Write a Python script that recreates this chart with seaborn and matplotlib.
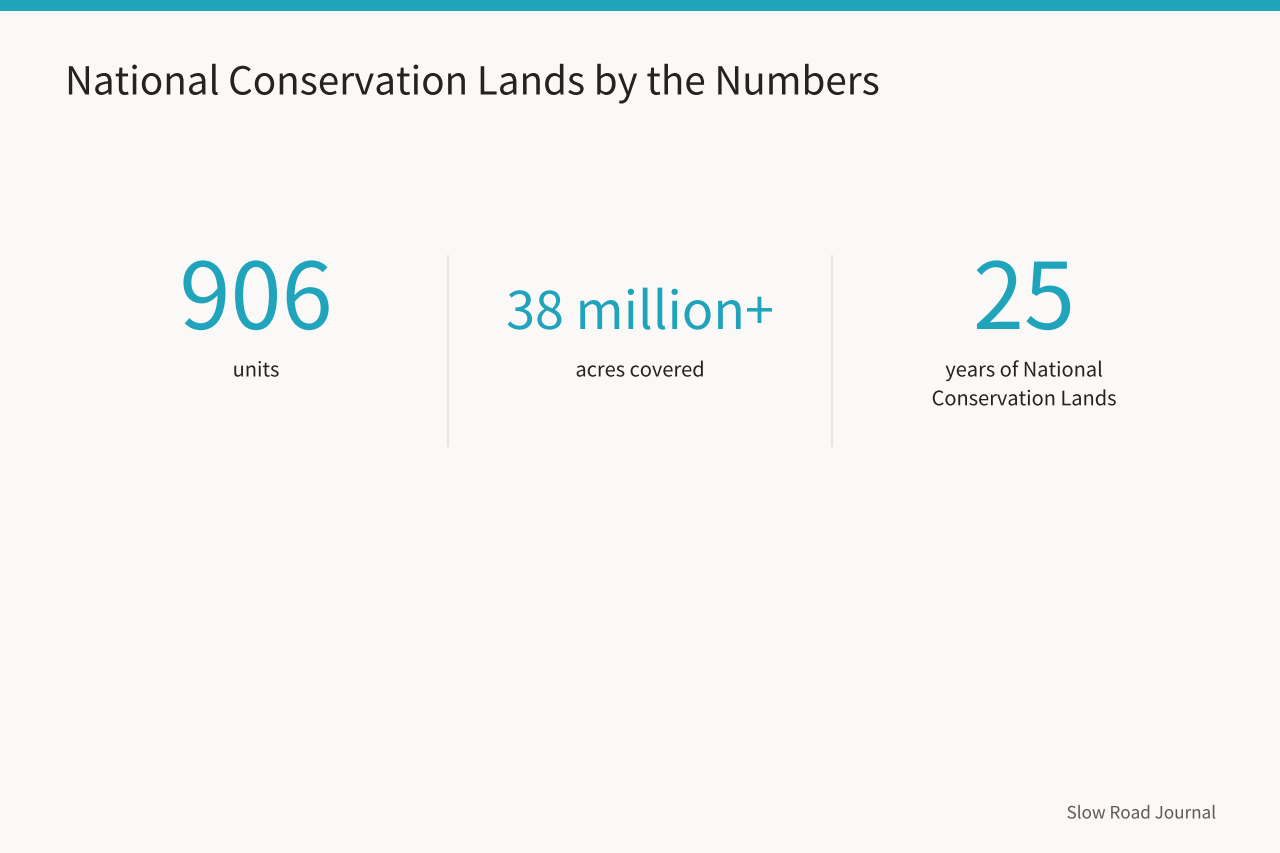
import matplotlib
matplotlib.use("Agg")
import matplotlib.pyplot as plt
import matplotlib.patheffects as pe
import seaborn as sns

title = "National Conservation Lands by the Numbers"
big_numbers = ["906", "38 million+", "25"]
captions = ["units", "acres covered", "years of National\nConservation Lands"]
number_sizes = [66.24, 37.44, 66.24]
footer = "Slow Road Journal"

bg = "#faf9f8"
teal = "#20a4bc"
dark = "#26221e"

sns.set_theme(style="white")
plt.rcParams["font.family"] = ["Noto Sans CJK JP", "DejaVu Sans"]
plt.rcParams["text.hinting"] = "no_hinting"
# draw glyphs as outlines, the bitmap route comes out too tall at this dpi
plt.rcParams["path.effects"] = [pe.Normal()]

W, H = 1280, 854
fig = plt.figure(figsize=(W / 100, H / 100), dpi=100, facecolor=bg)
ax = fig.add_axes([0, 0, 1, 1])
ax.set_xlim(0, W)
ax.set_ylim(H, 0)
ax.axis("off")

# top band
ax.axhspan(0, 11.5, color=teal, lw=0)

ax.text(65, 95.5, title, fontsize=27.8, color=dark, va="baseline", ha="left")

centers = [256, 640, 1024]
for cx, num, cap, size in zip(centers, big_numbers, captions, number_sizes):
    ax.text(cx, 330, num, fontsize=size, color=teal, ha="center", va="baseline")
    lines = cap.split("\n")
    ax.text(cx, 377.5, lines[0], fontsize=14.4, color=dark, ha="center", va="baseline")
    if len(lines) > 1:
        ax.text(cx, 406.3, lines[1], fontsize=14.4, color=dark, ha="center", va="baseline")

# dividers
for x in [448, 832]:
    ax.plot([x, x], [256.3, 448.3], color="#e5e4e1", lw=1.3, solid_capstyle="butt")

ax.text(1216, 819.5, footer, fontsize=12.3, color="#5c5954", ha="right", va="baseline")

fig.savefig("out.png", dpi=100, facecolor=bg)
